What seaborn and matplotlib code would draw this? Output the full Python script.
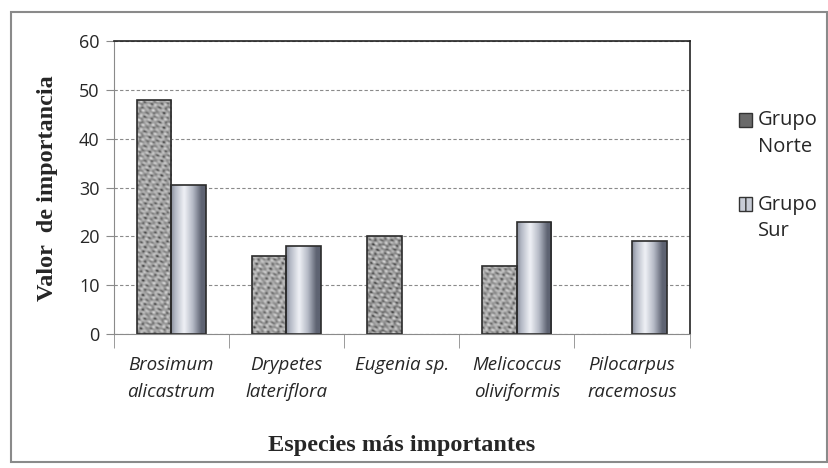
import numpy as np
import pandas as pd
import matplotlib
matplotlib.use('Agg')
import matplotlib.pyplot as plt
from matplotlib.patches import Rectangle
import seaborn as sns

especies = ['Brosimum\nalicastrum', 'Drypetes\nlateriflora', 'Eugenia sp.',
            'Melicoccus\noliviformis', 'Pilocarpus\nracemosus']
grupo_norte = [48, 16, 20, 14, np.nan]
grupo_sur = [30.5, 18, np.nan, 23, 19]
grupos = ['Grupo\nNorte', 'Grupo\nSur']
yticks = [0, 10, 20, 30, 40, 50, 60]

df = pd.DataFrame({
    'especie': especies * 2,
    'grupo': [grupos[0]] * 5 + [grupos[1]] * 5,
    'valor': grupo_norte + grupo_sur,
})

sns.set_style('white')
plt.rcParams['font.family'] = ['Open Sans', 'DejaVu Sans']

fig = plt.figure(figsize=(8.29, 4.68), dpi=100)
ax = fig.add_axes([0.137, 0.286, 0.695, 0.626])

sns.barplot(data=df, x='especie', y='valor', hue='grupo', hue_order=grupos,
            palette=['#8c8c8c', '#c8ccd6'], width=0.6, edgecolor='#2b2b2b',
            linewidth=1.2, legend=False, ax=ax)

ax.set_xlim(-0.5, 4.5)
ax.set_ylim(0, 60)

# gradiente tipo cilindro (sur) y textura moteada (norte)
grad = np.abs(np.linspace(-1, 1, 64) + 0.25)
grad = np.clip(grad, 0, 1)[None, :]
cmap_sur = matplotlib.colors.LinearSegmentedColormap.from_list(
    'sur', ['#eef0f5', '#b5bac6', '#5e6372'])
cmap_norte = matplotlib.colors.LinearSegmentedColormap.from_list(
    'norte', ['#3e3e3e', '#8a8a8a', '#b4b4b4', '#dadada'])
for p in ax.patches:
    h = p.get_height()
    if not np.isfinite(h) or h == 0:
        continue
    x0, w = p.get_x(), p.get_width()
    if p.get_facecolor()[0] > 0.7:
        im = ax.imshow(grad, extent=[x0, x0 + w, 0, h], aspect='auto',
                       cmap=cmap_sur, zorder=p.get_zorder(), interpolation='bicubic')
    else:
        ny = int(h * 4.9)
        xx, yy = np.meshgrid(np.arange(36) + x0 * 97, np.arange(ny) * 1.0)
        tex = (np.sin(xx * 0.71 + yy * 0.43) + np.sin(xx * 1.13 - yy * 0.87)
               + np.sin(yy * 1.31 + 0.5 * np.sin(xx * 0.53))
               + np.sin(xx * 0.29 + yy * 1.07) * np.cos(xx * 0.93 - yy * 0.61))
        im = ax.imshow(tex, extent=[x0, x0 + w, 0, h], aspect='auto',
                       cmap=cmap_norte, zorder=p.get_zorder(), interpolation='bilinear')
    im.set_clip_path(p)
    p.set_facecolor('none')
    p.set_zorder(p.get_zorder() + 0.1)
ax.set_xlim(-0.5, 4.5)
ax.set_ylim(0, 60)

ax.set_yticks(yticks)
ax.yaxis.grid(True, linestyle=(0, (3, 2)), color='#8a8a8a', linewidth=0.8)
ax.set_axisbelow(True)
for s in ['top', 'right']:
    ax.spines[s].set_color('#222222')
    ax.spines[s].set_linewidth(1.2)
for s in ['left', 'bottom']:
    ax.spines[s].set_color('#8a8a8a')
ax.tick_params(axis='y', labelsize=13, length=6, color='#8a8a8a', left=True, pad=4)
ax.set_xticks(range(5))
ax.set_xticklabels(especies, fontstyle='italic', fontsize=13.5, linespacing=1.6)
ax.tick_params(axis='x', length=0, pad=16)
ax.set_xticks(np.arange(-0.5, 5, 1), minor=True)
ax.tick_params(axis='x', which='minor', length=10, color='#8a8a8a', bottom=True)

ax.set_ylabel('Valor  de importancia', fontfamily='Liberation Serif',
              fontweight='bold', fontsize=17.5, labelpad=15)
ax.set_xlabel('Especies más importantes', fontfamily='Liberation Serif',
              fontweight='bold', fontsize=17.5, labelpad=25)

# leyenda: cuadro alineado con la primera línea del texto
leg_y = [0.744, 0.564]
leg_face = ['#6a6a6a', '#c8ccd6']
leg_hatch = [None, '||']
for yy, fc, hh, lab in zip(leg_y, leg_face, leg_hatch, grupos):
    fig.patches.append(Rectangle((0.891, yy - 0.015), 0.016, 0.03, transform=fig.transFigure,
                                 facecolor=fc, edgecolor='#333333', hatch=hh, linewidth=1))
    fig.text(0.914, yy + 0.02, lab, fontsize=14.5, va='top', ha='left', linespacing=1.45)

fig.patches.append(Rectangle((0.013, 0.012), 0.985, 0.962, transform=fig.transFigure,
                             fill=False, edgecolor='#8a8a8a', linewidth=1.5))

fig.savefig('out.png', dpi=100)
